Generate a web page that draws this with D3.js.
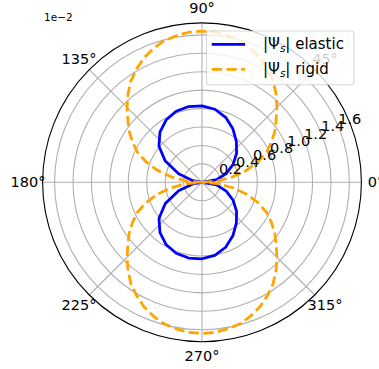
<!DOCTYPE html>
<html><head><meta charset="utf-8">
<script src="https://cdn.jsdelivr.net/npm/d3@7"></script>
<style>html,body{margin:0;padding:0;background:#fff}svg{display:block}</style>
</head><body>
<svg id="chart" width="379" height="369"></svg>
<script>
// ---- data (r values in units of 1e-2) ----
const thetaElastic = [0,10,20,30,40,50,60,70,80,90,100,110,120,130,140,150,160,170,180,
                      190,200,210,220,230,240,250,260,270,280,290,300,310,320,330,340,350,360];
const elastic = [0,0.16,0.28,0.39,0.49,0.58,0.67,0.75,0.805,0.83,0.835,0.82,0.78,0.71,0.61,0.46,0.27,0.10,0,
                 0.10,0.27,0.46,0.61,0.71,0.78,0.82,0.835,0.83,0.805,0.75,0.67,0.58,0.49,0.39,0.28,0.16,0];
const thetaRigid = [0,5,10,15,20,25,30,35,40,45,50,55,60,65,70,75,80,85,90,
                    95,100,105,110,115,120,125,130,135,140,145,150,155,160,165,170,175,180,
                    185,190,195,200,205,210,215,220,225,230,235,240,245,250,255,260,265,270,
                    275,280,285,290,295,300,305,310,315,320,325,330,335,340,345,350,355,360];
const rigid = [0,0.17,0.34,0.50,0.645,0.775,0.87,0.965,1.05,1.15,1.25,1.345,1.42,1.49,1.545,1.59,1.615,1.635,1.64,
               1.635,1.615,1.59,1.545,1.49,1.42,1.345,1.25,1.15,1.05,0.965,0.87,0.775,0.645,0.50,0.34,0.17,0,
               0.17,0.34,0.50,0.645,0.775,0.87,0.965,1.05,1.15,1.25,1.345,1.42,1.49,1.545,1.59,1.615,1.635,1.64,
               1.635,1.615,1.59,1.545,1.49,1.42,1.345,1.25,1.15,1.05,0.965,0.87,0.775,0.645,0.50,0.34,0.17,0];
const rTicks = [0.2,0.4,0.6,0.8,1.0,1.2,1.4,1.6];
const thetaTicks = [0,45,90,135,180,225,270,315];
const seriesNames = ["elastic","rigid"];
const offsetLabel = "1e\u22122";

// ---- layout ----
const cx = 202, cy = 182.3, R = 159.4, rMax = 1.73;
const svg = d3.select("#chart");
const r = d3.scaleLinear().domain([0, rMax]).range([0, R]);
const toRad = d => (90 - d) * Math.PI / 180; // d3 angle: 0 at top, clockwise
const g = svg.append("g").attr("transform", `translate(${cx},${cy})`);
const font = "DejaVu Sans, sans-serif";

// grid circles
g.selectAll("circle.grid").data(rTicks).join("circle")
  .attr("r", d => r(d)).attr("fill", "none").attr("stroke", "#b0b0b0").attr("stroke-width", 1.1);
// spokes
g.selectAll("line.spoke").data(thetaTicks).join("line")
  .attr("x1", 0).attr("y1", 0)
  .attr("x2", d => R * Math.cos(d * Math.PI / 180))
  .attr("y2", d => -R * Math.sin(d * Math.PI / 180))
  .attr("stroke", "#b0b0b0").attr("stroke-width", 1.1);

// data lines
const line = d3.lineRadial().curve(d3.curveLinear);
const ptsE = thetaElastic.map((t, i) => [toRad(t), r(elastic[i])]);
const ptsR = thetaRigid.map((t, i) => [toRad(t), r(rigid[i])]);
g.append("path").attr("d", line(ptsE)).attr("fill", "none")
  .attr("stroke", "#0000ff").attr("stroke-width", 2.78).attr("stroke-linejoin", "round");
g.append("path").attr("d", line(ptsR)).attr("fill", "none")
  .attr("stroke", "#ffa500").attr("stroke-width", 2.78).attr("stroke-linejoin", "round")
  .attr("stroke-dasharray", "10.3,4.4");

// outer spine
g.append("circle").attr("r", R).attr("fill", "none").attr("stroke", "#000").attr("stroke-width", 1.1);

// radial tick labels at 22.5 deg
const a = 22.5 * Math.PI / 180;
g.selectAll("text.rlab").data(rTicks).join("text")
  .attr("x", d => r(d) * Math.cos(a))
  .attr("y", d => -r(d) * Math.sin(a) - 1.5)
  .attr("font-family", font).attr("font-size", 14.5).attr("fill", "#000")
  .text(d => d3.format(".1f")(d));

// theta tick labels
const labR = 174;
g.selectAll("text.tlab").data(thetaTicks).join("text")
  .attr("x", d => labR * Math.cos(d * Math.PI / 180))
  .attr("y", d => -labR * Math.sin(d * Math.PI / 180))
  .attr("text-anchor", "middle").attr("dominant-baseline", "central")
  .attr("font-family", font).attr("font-size", 14.5).attr("fill", "#000")
  .text(d => d + "\u00b0");

// offset text
svg.append("text").attr("x", 44).attr("y", 21)
  .attr("font-family", font).attr("font-size", 10.5).attr("fill", "#000").text(offsetLabel);

// legend
const lg = svg.append("g");
lg.append("rect").attr("x", 206.5).attr("y", 31).attr("width", 147.5).attr("height", 53.7)
  .attr("rx", 3).attr("fill", "#fff").attr("fill-opacity", 0.8)
  .attr("stroke", "#cccccc").attr("stroke-opacity", 0.8).attr("stroke-width", 1.1);
const rows = [{y: 44.3, color: "#0000ff", dash: null, name: seriesNames[0]},
              {y: 69.3, color: "#ffa500", dash: "10.3,4.4", name: seriesNames[1]}];
rows.forEach(row => {
  const ln = lg.append("line").attr("x1", 211.7).attr("x2", 245).attr("y1", row.y).attr("y2", row.y)
    .attr("stroke", row.color).attr("stroke-width", 2.78);
  if (row.dash) ln.attr("stroke-dasharray", row.dash);
  const t = lg.append("text").attr("x", 263).attr("y", row.y).attr("dominant-baseline", "central")
    .attr("font-family", font).attr("font-size", 15).attr("fill", "#000");
  t.append("tspan").text("|\u03a8");
  t.append("tspan").attr("font-size", 10.5).attr("font-style", "italic").attr("dy", 3.5).text("s");
  t.append("tspan").attr("dy", -3.5).text("| " + row.name);
});
</script>
</body></html>
